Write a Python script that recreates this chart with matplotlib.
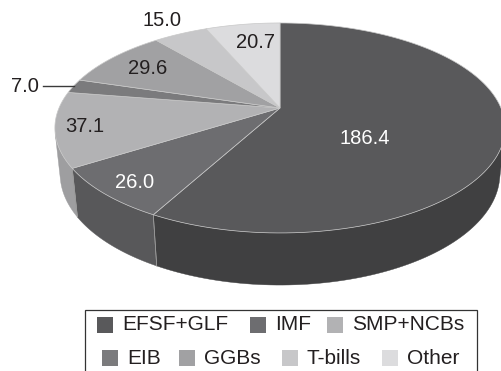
import numpy as np
import matplotlib
matplotlib.use("Agg")
import matplotlib.pyplot as plt
from matplotlib.patches import Polygon, Rectangle

plt.rcParams['font.family'] = ['Liberation Sans', 'DejaVu Sans']

# Holdings (EUR bn)
categories = ["EFSF+GLF", "IMF", "SMP+NCBs", "EIB", "GGBs", "T-bills", "Other"]
values = [186.4, 26.0, 37.1, 7.0, 29.6, 15.0, 20.7]
value_labels = ["186.4", "26.0", "37.1", "7.0", "29.6", "15.0", "20.7"]

top_colors = ["#59595b", "#6d6d70", "#b2b2b4", "#7b7b7d", "#a1a1a3", "#c7c7c9", "#dcdcde"]
side_colors = ["#404041", "#58585a", "#9e9ea0", "#6a6a6c", "#8c8c8e", "#b0b0b2", "#c4c4c6"]
label_colors = ["white", "white", "#231f20", "#231f20", "#231f20", "#231f20", "#231f20"]

# Label placement (pixels)
label_pos = [(365, 138), (135, 182), (85, 127), (25, 87), (148, 68), (162, 20), (256, 43)]

W, H = 502, 371
fig = plt.figure(figsize=(W / 100, H / 100), dpi=100)
ax = fig.add_axes([0, 0, 1, 1])
ax.set_xlim(0, W)
ax.set_ylim(H, 0)
ax.axis("off")

# Perspective camera for the tilted disk
cx, cy = 280.0, 108.0
k = 221.0
phi = np.arcsin(101.2 / k)
d0 = 5.26 * np.cos(phi)
f = k * d0
thick = 0.2355


def project(theta_deg, r=1.0, z=0.0):
    t = np.radians(theta_deg)
    x = r * np.cos(t)
    y = r * np.sin(t)
    ycam = z * np.cos(phi) + y * np.sin(phi)
    depth = d0 + y * np.cos(phi) - z * np.sin(phi)
    u = f * x / depth
    v = f * ycam / depth
    return cx + u, cy - v


total = sum(values)
spans = [v / total * 360.0 for v in values]
starts = []
a = 90.0
for s in spans:
    starts.append(a)
    a -= s
ends = [s - sp for s, sp in zip(starts, spans)]

# visible rim range (faces toward the camera)
delta = np.degrees(np.arcsin(1.0 / (d0 * np.cos(phi))))
vis_lo, vis_hi = -180.0 + delta, -delta

edge = "#c8c8c8"

# side walls
for i in range(len(values)):
    lo = max(ends[i], vis_lo)
    hi = min(starts[i], vis_hi)
    if hi <= lo:
        continue
    th = np.linspace(lo, hi, 80)
    xt, yt = project(th, 1.0, 0.0)
    xb, yb = project(th[::-1], 1.0, -thick)
    pts = np.column_stack([np.concatenate([xt, xb]), np.concatenate([yt, yb])])
    ax.add_patch(Polygon(pts, closed=True, facecolor=side_colors[i],
                         edgecolor=side_colors[i], lw=0.3, zorder=1))
    for b in (lo, hi):
        if vis_lo < b < vis_hi:
            x0, y0 = project(b, 1.0, 0.0)
            x1, y1 = project(b, 1.0, -thick)
            ax.plot([x0, x1], [y0, y1], color="#9a9a9a", lw=0.5, zorder=2)

# top face
for i in range(len(values)):
    th = np.linspace(starts[i], ends[i], 120)
    xs, ys = project(th, 1.0, 0.0)
    pts = np.column_stack([np.concatenate([[cx], xs]), np.concatenate([[cy], ys])])
    ax.add_patch(Polygon(pts, closed=True, facecolor=top_colors[i],
                         edgecolor=edge, lw=0.5, zorder=3))

# value labels
for i, txt in enumerate(value_labels):
    x, y = label_pos[i]
    ax.text(x, y, txt, fontsize=14.5, color=label_colors[i],
            ha="center", va="center", zorder=5)

# leader for the thin EIB slice
mid = (starts[3] + ends[3]) / 2
ex, ey = project(mid, 1.0, 0.0)
ax.plot([43, ex], [ey, ey], color="#3a3a3a", lw=1.0, zorder=4)

# legend
ax.add_patch(Rectangle((85, 310), 392, 80, facecolor="white",
                       edgecolor="#333333", lw=0.9, zorder=4, clip_on=True))
rows = [[0, 1, 2], [3, 4, 5, 6]]
row_y = [325, 358]
sq_x = [[97, 250, 327], [102, 179, 282, 382]]
for r, idxs in enumerate(rows):
    for j, i in enumerate(idxs):
        x = sq_x[r][j]
        ax.add_patch(Rectangle((x, row_y[r] - 8.5), 16.5, 16.5,
                               facecolor=top_colors[i], edgecolor="none", zorder=5))
        ax.text(x + 25, row_y[r], categories[i], fontsize=15, color="#231f20",
                ha="left", va="center", zorder=5)

fig.savefig("out.png", dpi=100)
